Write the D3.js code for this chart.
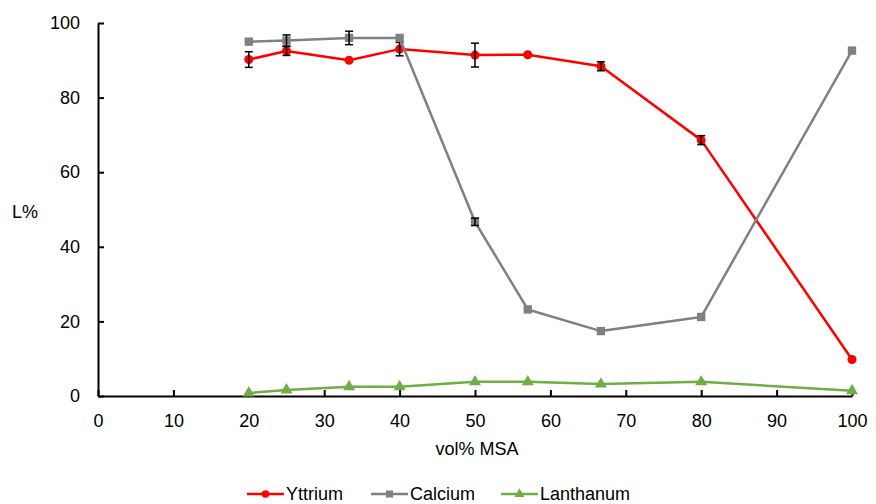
<!DOCTYPE html>
<html>
<head>
<meta charset="utf-8">
<script src="https://cdn.jsdelivr.net/npm/d3@7"></script>
<style>
  body { margin: 0; background: #fff; }
  svg { display: block; font-family: "Liberation Sans", Arial, sans-serif; }
</style>
</head>
<body>
<svg id="chart" width="876" height="504"></svg>
<script>
// MSA volume fraction of each sample
const volMSA = [20, 25, 33.3, 40, 50, 57, 66.7, 80, 100];

// Leaching percentages per element, with standard deviations
const yttrium    = [90.2, 92.5, 90.0, 93.0, 91.4, 91.5, 88.4, 68.6, 9.8];
const yttriumErr = [2.1, 1.2, 0, 1.8, 3.2, 0, 1.2, 1.2, 0];
const calcium    = [95.0, 95.3, 96.0, 96.0, 46.7, 23.2, 17.4, 21.2, 92.6];
const calciumErr = [0, 1.5, 1.8, 0, 1.0, 0, 0, 0, 0];
const lanthanum  = [0.8, 1.6, 2.5, 2.5, 3.8, 3.8, 3.2, 3.8, 1.4];
const lanthanumErr = [0, 0, 0, 0, 0, 0, 0, 0, 0];

const xTicks = [0, 10, 20, 30, 40, 50, 60, 70, 80, 90, 100];
const yTicks = [0, 20, 40, 60, 80, 100];

const series = [
  { name: "Yttrium",   values: yttrium,   err: yttriumErr,   color: "#FF0000", shape: "circle" },
  { name: "Calcium",   values: calcium,   err: calciumErr,   color: "#808080", shape: "square" },
  { name: "Lanthanum", values: lanthanum, err: lanthanumErr, color: "#70AD47", shape: "triangle" }
];

const svg = d3.select("#chart");
const m = { left: 98, right: 24, top: 23, bottom: 108 };
const W = 876, H = 504;
const FONT = "18px";

const x = d3.scaleLinear().domain([0, 100]).range([m.left, W - m.right]);
const y = d3.scaleLinear().domain([0, 100]).range([H - m.bottom, m.top]);

// Axes with inward ticks
const xAxis = svg.append("g")
  .attr("transform", `translate(0,${y(0)})`)
  .call(d3.axisBottom(x).tickValues(xTicks).tickSizeInner(-6).tickSizeOuter(0).tickPadding(18));
const yAxis = svg.append("g")
  .attr("transform", `translate(${x(0)},0)`)
  .call(d3.axisLeft(y).tickValues(yTicks).tickSizeInner(-6).tickSizeOuter(0).tickPadding(18));

[xAxis, yAxis].forEach(a => {
  a.select(".domain").attr("stroke", "#000").attr("stroke-width", 2);
  a.selectAll(".tick line").attr("stroke", "#000").attr("stroke-width", 2);
  a.selectAll(".tick text").attr("fill", "#000").style("font-size", FONT)
    .style("font-family", "'Liberation Sans', Arial, sans-serif");
});

// Axis titles
svg.append("text").attr("x", 477).attr("y", 455).attr("text-anchor", "middle")
  .style("font-size", FONT).text("vol% MSA");
svg.append("text").attr("x", 25).attr("y", 218).attr("text-anchor", "middle")
  .style("font-size", FONT).text("L%");

const symbolType = { circle: d3.symbolCircle, square: d3.symbolSquare, triangle: d3.symbolTriangle };
const symbolSize = { circle: 64, square: 70, triangle: 62 };

const line = d3.line().x(d => x(d[0])).y(d => y(d[1]));

series.forEach(s => {
  const pts = volMSA.map((v, i) => [v, s.values[i], s.err[i]]);
  const g = svg.append("g");
  g.append("path").datum(pts).attr("d", line)
    .attr("fill", "none").attr("stroke", s.color).attr("stroke-width", 2.5)
    .attr("stroke-linejoin", "round");
  // Markers
  g.selectAll("path.mk").data(pts).join("path").attr("class", "mk")
    .attr("transform", d => `translate(${x(d[0])},${y(d[1])})`)
    .attr("d", d3.symbol().type(symbolType[s.shape]).size(symbolSize[s.shape]))
    .attr("fill", s.color);
  // Error bars
  const eb = g.selectAll("g.err").data(pts.filter(d => d[2] > 0)).join("g").attr("class", "err");
  eb.append("line")
    .attr("x1", d => x(d[0])).attr("x2", d => x(d[0]))
    .attr("y1", d => y(d[1] - d[2])).attr("y2", d => y(d[1] + d[2]))
    .attr("stroke", "#000").attr("stroke-width", 1.5);
  ["-", "+"].forEach(sign => {
    eb.append("line")
      .attr("x1", d => x(d[0]) - 4).attr("x2", d => x(d[0]) + 4)
      .attr("y1", d => y(sign === "+" ? d[1] + d[2] : d[1] - d[2]))
      .attr("y2", d => y(sign === "+" ? d[1] + d[2] : d[1] - d[2]))
      .attr("stroke", "#000").attr("stroke-width", 1.5);
  });
});

// Legend along the bottom edge
const legendX = [247, 371, 501];
series.forEach((s, i) => {
  const g = svg.append("g").attr("transform", `translate(${legendX[i]},494)`);
  g.append("line").attr("x1", 0).attr("x2", 37).attr("y1", 0).attr("y2", 0)
    .attr("stroke", s.color).attr("stroke-width", 2.5);
  g.append("path").attr("transform", "translate(18.5,0)")
    .attr("d", d3.symbol().type(symbolType[s.shape]).size(symbolSize[s.shape] * 0.7))
    .attr("fill", s.color);
  g.append("text").attr("x", 39).attr("y", 6).style("font-size", FONT).text(s.name);
});
</script>
</body>
</html>
